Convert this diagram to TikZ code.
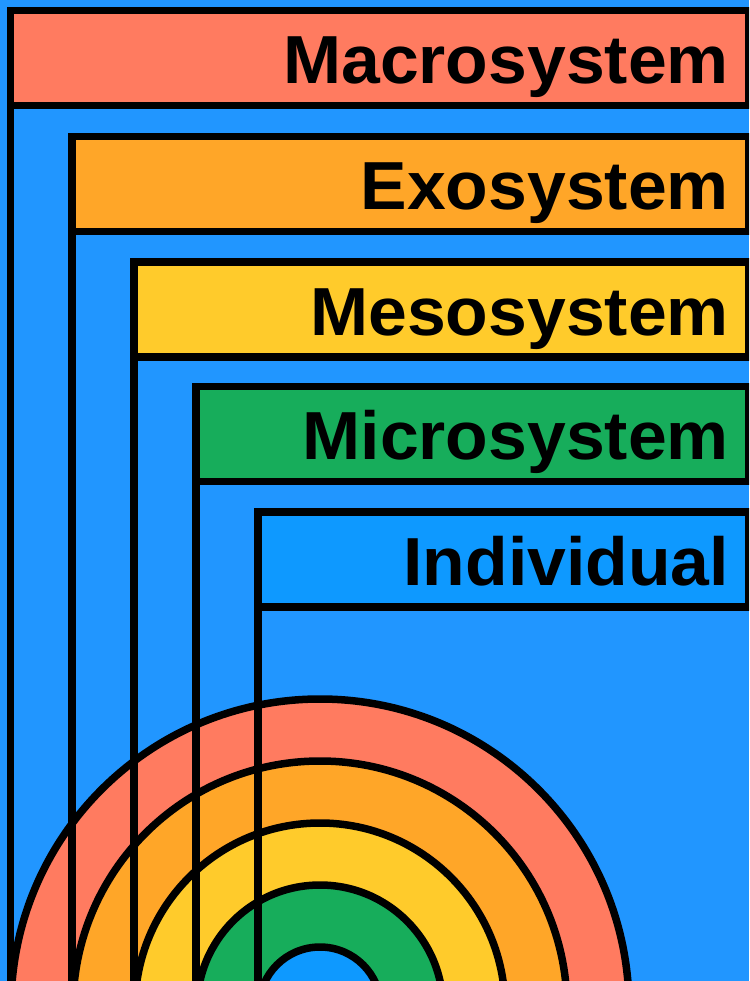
\documentclass[tikz,border=0pt]{standalone}
\usepackage{fontspec}
\setmainfont{Liberation Sans}
\newfontfamily\sysfont[FakeStretch=1.025]{Liberation Sans}
\usepackage{tikz}
\usetikzlibrary{positioning}
\definecolor{myblue}{HTML}{2196FF}
\definecolor{mylightblue}{HTML}{0E99FF}
\definecolor{mysalmon}{HTML}{FF7B60}
\definecolor{myorange}{HTML}{FFA628}
\definecolor{myyellow}{HTML}{FFCB2B}
\definecolor{mygreen}{HTML}{17AD5B}
\tikzset{frame/.style={line width=7.5pt, draw=black},
  sysname/.style={anchor=base east, inner sep=0pt, text=black, font=\sysfont\fontsize{68}{68}\selectfont\bfseries}}

\begin{document}
\begin{tikzpicture}[x=1pt, y=-1pt]
			\fill[myblue] (0,0) rectangle (749,981);
			\useasboundingbox (0,0) rectangle (749,981);
			\begin{scope}
			\clip (0,0) rectangle (749,981);
			\filldraw[frame, fill=mysalmon] (320,1008) circle (309pt);
			\filldraw[frame, fill=myorange] (320,1008) circle (247pt);
			\filldraw[frame, fill=myyellow] (320,1008) circle (185pt);
			\filldraw[frame, fill=mygreen] (320,1008) circle (123pt);
			\filldraw[frame, fill=mylightblue] (320,1008) circle (61pt);
			\filldraw[frame, fill=mysalmon] (10.5,10.5) rectangle (748.5,105.5);
			\draw[frame] (10.5,10.5) -- (10.5,990);
			\filldraw[frame, fill=myorange] (72,136.5) rectangle (748.5,231.5);
			\draw[frame] (72,136.5) -- (72,990);
			\filldraw[frame, fill=myyellow] (134,262) rectangle (748.5,357);
			\draw[frame] (134,262) -- (134,990);
			\filldraw[frame, fill=mygreen] (196,386.5) rectangle (748.5,481.5);
			\draw[frame] (196,386.5) -- (196,990);
			\filldraw[frame, fill=mylightblue] (258,512) rectangle (748.5,607);
			\draw[frame] (258,512) -- (258,990);
			\end{scope}
			\node[sysname] (macro) at (729,83.5) {Macrosystem};
			\node[sysname] (exo) at (729,209.5) {Exosystem};
			\node[sysname] (meso) at (729,335) {Mesosystem};
			\node[sysname] (micro) at (729,459.5) {Microsystem};
			\node[sysname] (individual) at (729,585) {Individual};
\end{tikzpicture}
\end{document}
